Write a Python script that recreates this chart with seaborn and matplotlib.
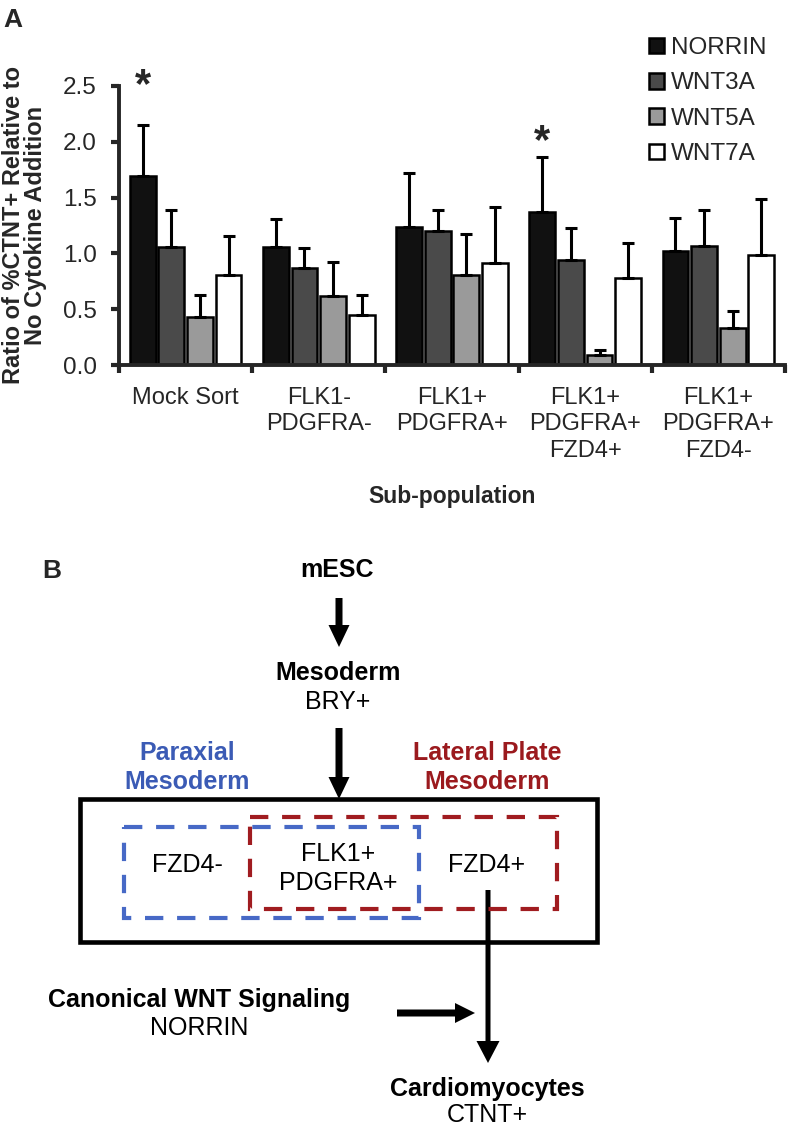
import numpy as np
import pandas as pd
import matplotlib
matplotlib.use("Agg")
import matplotlib.pyplot as plt
import seaborn as sns
from matplotlib.patches import Patch, Rectangle

# panel A data
groups = ["Mock Sort", "FLK1-\nPDGFRA-", "FLK1+\nPDGFRA+",
          "FLK1+\nPDGFRA+\nFZD4+", "FLK1+\nPDGFRA+\nFZD4-"]
factors = ["NORRIN", "WNT3A", "WNT5A", "WNT7A"]
norrin = [1.69, 1.06, 1.24, 1.37, 1.02]
wnt3a = [1.06, 0.87, 1.20, 0.94, 1.07]
wnt5a = [0.43, 0.62, 0.81, 0.09, 0.33]
wnt7a = [0.81, 0.45, 0.91, 0.78, 0.99]
norrin_err = [0.46, 0.25, 0.48, 0.49, 0.30]
wnt3a_err = [0.33, 0.18, 0.19, 0.29, 0.32]
wnt5a_err = [0.20, 0.30, 0.36, 0.04, 0.15]
wnt7a_err = [0.35, 0.18, 0.51, 0.31, 0.50]
star_level = [2.50, np.nan, np.nan, 2.00, np.nan]  # "*" over NORRIN
colors = ["#111111", "#4a4a4a", "#9a9a9a", "#ffffff"]

sns.set_style("ticks")
plt.rcParams['font.family'] = ['Liberation Sans', 'DejaVu Sans']

rows = []
for f, vals, errs in zip(factors, [norrin, wnt3a, wnt5a, wnt7a],
                         [norrin_err, wnt3a_err, wnt5a_err, wnt7a_err]):
    for g, v, e in zip(groups, vals, errs):
        rows.append({"group": g, "factor": f, "value": v, "err": e})
df = pd.DataFrame(rows)

fig = plt.figure(figsize=(7.89, 11.26), dpi=100)
ax = fig.add_axes([119 / 789, 1 - 365 / 1126, 666 / 789, 279 / 1126])

sns.barplot(data=df, x="group", y="value", hue="factor", order=groups,
            hue_order=factors, palette=colors, edgecolor="black",
            linewidth=1.8, width=0.86, gap=0.1, errorbar=None,
            legend=False, ax=ax)

# upward-only error bars at bar centres
for i, f in enumerate(factors):
    sub = df[df.factor == f].set_index("group").loc[groups]
    bars = ax.patches[i * len(groups):(i + 1) * len(groups)]
    xs = [b.get_x() + b.get_width() / 2 for b in bars]
    ax.errorbar(xs, sub["value"], yerr=[np.zeros(len(groups)), sub["err"]],
                fmt="none", ecolor="black", elinewidth=2.2, capsize=4,
                capthick=2.2, zorder=1)

# significance stars over NORRIN
bars = ax.patches[:len(groups)]
for b, s in zip(bars, star_level):
    if not np.isnan(s):
        ax.text(b.get_x() + b.get_width() / 2, s, "*", ha="center",
                va="center", fontsize=30, fontweight="bold", clip_on=False)

ax.set_ylim(0, 2.5)
ax.set_xlim(-0.5, 4.5)
ax.set_yticks(np.arange(0, 2.51, 0.5))
ax.set_yticklabels([f"{t:.1f}" for t in np.arange(0, 2.51, 0.5)])
ax.set_xticks(np.arange(-0.5, 4.6, 1.0))
ax.set_xticklabels([])
ax.set_xticks(range(len(groups)), minor=True)
ax.set_xticklabels(groups, minor=True, fontsize=17, linespacing=1.25)
ax.tick_params(axis="x", which="major", length=6, width=3, direction="out")
ax.tick_params(axis="x", which="minor", length=0, pad=16)
ax.tick_params(axis="y", length=6, width=3, direction="out", labelsize=17.5,
               pad=10)
sns.despine(ax=ax)
for sp in ["left", "bottom"]:
    ax.spines[sp].set_linewidth(2.8)

ax.set_ylabel("Ratio of %CTNT+ Relative to\nNo Cytokine Addition",
              fontsize=17, fontweight="bold", linespacing=0.95)
ax.yaxis.set_label_coords(-0.108, 0.5)
ax.set_xlabel("Sub-population", fontsize=16.5, fontweight="bold", labelpad=17)

handles = [Patch(facecolor=c, edgecolor="black", linewidth=1.8) for c in colors]
ax.legend(handles, factors, loc="upper left", bbox_to_anchor=(649 / 789, 1 - 37 / 1126),
          bbox_transform=fig.transFigure, frameon=False, fontsize=17.5,
          handlelength=0.6, handleheight=0.6, handletextpad=0.3,
          labelspacing=0.55, borderpad=0, borderaxespad=0)

# panel B: schematic drawn on a pixel-sized overlay
ax2 = fig.add_axes([0, 0, 1, 1])
ax2.set_xlim(0, 789)
ax2.set_ylim(1126, 0)
ax2.axis("off")
ax2.patch.set_alpha(0)

blue_txt, red_txt = "#3b5bb5", "#9b1a1e"
blue_ln, red_ln = "#4769c6", "#a01c20"

ax2.text(3, 27, "A", fontsize=19, fontweight="bold", va="baseline")
ax2.text(42, 578, "B", fontsize=19, fontweight="bold", va="baseline")

def label(x, y, s, bold=False, color="black"):
    ax2.text(x, y, s, ha="center", va="baseline", fontsize=18,
             fontweight="bold" if bold else "normal", color=color)

label(337, 577, "mESC", bold=True)
label(338, 680, "Mesoderm", bold=True)
label(338, 709, "BRY+")
label(187, 760, "Paraxial", bold=True, color=blue_txt)
label(187, 789, "Mesoderm", bold=True, color=blue_txt)
label(487, 760, "Lateral Plate", bold=True, color=red_txt)
label(487, 789, "Mesoderm", bold=True, color=red_txt)
label(187, 872, "FZD4-")
label(338, 861, "FLK1+")
label(338, 890, "PDGFRA+")
label(487, 872, "FZD4+")
label(199, 1007, "Canonical WNT Signaling", bold=True)
label(199, 1035, "NORRIN")
label(487, 1096, "Cardiomyocytes", bold=True)
label(487, 1122, "CTNT+")

akw = dict(color="black", length_includes_head=True, linewidth=0)
ax2.arrow(339, 598, 0, 49, width=7, head_width=21, head_length=22, **akw)
ax2.arrow(339, 728, 0, 71, width=7, head_width=21, head_length=22, **akw)
ax2.arrow(488, 890, 0, 173, width=5, head_width=23, head_length=22, **akw)
ax2.arrow(397, 1013, 78, 0, width=7, head_width=20, head_length=20, **akw)

ax2.add_patch(Rectangle((80, 799), 517, 143, fill=False, ec="black", lw=3.3))
ax2.add_patch(Rectangle((124, 827), 295, 91, fill=False, ec=blue_ln, lw=3,
                        linestyle=(0, (4.4, 3.3))))
ax2.add_patch(Rectangle((250, 817), 307, 92, fill=False, ec=red_ln, lw=3,
                        linestyle=(0, (4.4, 3.3))))

fig.savefig("out.png", dpi=100)
